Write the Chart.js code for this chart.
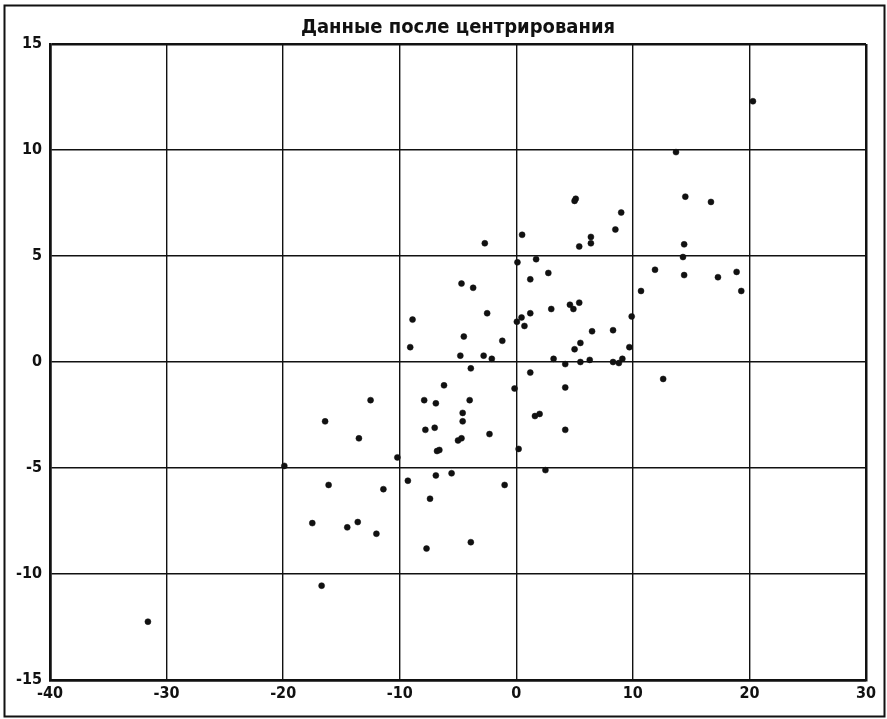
<!DOCTYPE html>
<html>
<head>
<meta charset="utf-8">
<script src="https://cdn.jsdelivr.net/npm/chart.js@4/dist/chart.umd.min.js"></script>
<style>
  html, body { margin: 0; padding: 0; background: #fff; }
  canvas { display: block; }
</style>
</head>
<body>
<canvas id="myChart" width="887" height="719"></canvas>
<script>
// точки после центрирования
const xVals = [
  -4.7, -3.7, -2.5, -8.9, -4.5, -1.2, -9.1, -4.8, -2.8, -2.1,
  -3.9, -6.2, -0.15, -12.5, -7.9, -6.9, -4.0, -4.6, -4.6, -16.4,
  -7.8, -7.0, -2.3, -13.5, -5.0, -4.7, -6.8, -6.6, 0.2, -10.2,
  -16.1, -11.4, -9.3, -6.9, -5.55, -1.0, -7.4, -17.5, -14.5, -13.6,
  -12.0, -7.7, -3.9, -16.7, -31.6, -19.9, 5.1, 5.0, 9.0, 0.5,
  8.5, 6.4, 6.4, 5.4, 14.5, 16.7, 14.4, 14.3, 0.1, 1.7,
  2.75, 1.2, 11.9, 14.4, 17.3, 18.9, 19.3, 10.7, 3.0, 4.6,
  4.9, 5.4, 1.2, 0.45, 0.05, 0.7, 9.9, 6.5, 8.3, 5.5,
  5.0, 9.7, 3.2, 4.2, 5.5, 6.3, 8.3, 8.8, 9.1, 1.2,
  12.6, 4.2, 1.6, 2.0, 4.2, 2.5, 13.7, 20.3, -2.7
];
const yVals = [
  3.7, 3.5, 2.3, 2.0, 1.2, 1.0, 0.7, 0.3, 0.3, 0.15,
  -0.3, -1.1, -1.25, -1.8, -1.8, -1.95, -1.8, -2.4, -2.8, -2.8,
  -3.2, -3.1, -3.4, -3.6, -3.7, -3.6, -4.2, -4.15, -4.1, -4.5,
  -5.8, -6.0, -5.6, -5.35, -5.25, -5.8, -6.45, -7.6, -7.8, -7.55,
  -8.1, -8.8, -8.5, -10.55, -12.25, -4.9, 7.7, 7.6, 7.05, 6.0,
  6.25, 5.9, 5.6, 5.45, 7.8, 7.55, 5.55, 4.95, 4.7, 4.85,
  4.2, 3.9, 4.35, 4.1, 4.0, 4.25, 3.35, 3.35, 2.5, 2.7,
  2.5, 2.8, 2.3, 2.1, 1.9, 1.7, 2.15, 1.45, 1.5, 0.9,
  0.6, 0.7, 0.15, -0.1, 0.0, 0.1, 0.0, -0.05, 0.15, -0.5,
  -0.8, -1.2, -2.55, -2.45, -3.2, -5.1, 9.9, 12.3, 5.6
];
const xTickValues = [-40, -30, -20, -10, 0, 10, 20, 30];
const yTickValues = [-15, -10, -5, 0, 5, 10, 15];
const chartTitle = 'Данные после центрирования';

const points = xVals.map((x, i) => ({ x: x, y: yVals[i] }));

const tickFont = { family: '"DejaVu Sans Condensed", "DejaVu Sans", sans-serif', size: 16, weight: 'bold' };

// рамка вокруг всего листа (как на скане)
const pageFrame = {
  id: 'pageFrame',
  beforeDraw(chart) {
    const ctx = chart.ctx;
    ctx.save();
    ctx.fillStyle = '#fff';
    ctx.fillRect(0, 0, chart.width, chart.height);
    ctx.strokeStyle = '#111';
    ctx.lineWidth = 2;
    ctx.strokeRect(4.5, 5.5, 880, 711);
    ctx.restore();
  }
};

const edgeWidth = (ctx, list) => {
  const v = ctx.tick ? ctx.tick.value : null;
  return (v === list[0] || v === list[list.length - 1]) ? 2.5 : 1.4;
};

const ctx = document.getElementById('myChart').getContext('2d');
new Chart(ctx, {
  type: 'scatter',
  data: {
    datasets: [{
      label: 'data',
      data: points,
      pointRadius: 3,
      pointHoverRadius: 3,
      pointBackgroundColor: '#111',
      pointBorderColor: '#111',
      pointBorderWidth: 0.5
    }]
  },
  options: {
    responsive: false,
    animation: false,
    layout: { padding: { left: 0, right: 21, top: 0, bottom: 0 } },
    plugins: {
      legend: { display: false },
      tooltip: { enabled: false },
      title: {
        display: true,
        text: chartTitle,
        fullSize: false,
        color: '#111',
        font: { family: '"DejaVu Sans Condensed", "DejaVu Sans", sans-serif', size: 20, weight: 'bold', lineHeight: 1.2 },
        padding: { top: 16, bottom: 4 }
      }
    },
    scales: {
      x: {
        type: 'linear',
        min: xTickValues[0],
        max: xTickValues[xTickValues.length - 1],
        afterBuildTicks: (axis) => { axis.ticks = xTickValues.map(v => ({ value: v })); },
        afterFit: (axis) => { axis.height = 39; },
        grid: { color: '#111', lineWidth: (c) => edgeWidth(c, xTickValues), drawTicks: false },
        border: { color: '#111', width: 2.5 },
        ticks: { color: '#111', font: tickFont, padding: 4, maxRotation: 0 }
      },
      y: {
        type: 'linear',
        min: yTickValues[0],
        max: yTickValues[yTickValues.length - 1],
        afterBuildTicks: (axis) => { axis.ticks = yTickValues.map(v => ({ value: v })); },
        afterFit: (axis) => { axis.width = 50; },
        grid: { color: '#111', lineWidth: (c) => edgeWidth(c, yTickValues), drawTicks: false },
        border: { color: '#111', width: 2.5 },
        ticks: { color: '#111', font: tickFont, padding: 8 }
      }
    }
  },
  plugins: [pageFrame]
});
</script>
</body>
</html>
